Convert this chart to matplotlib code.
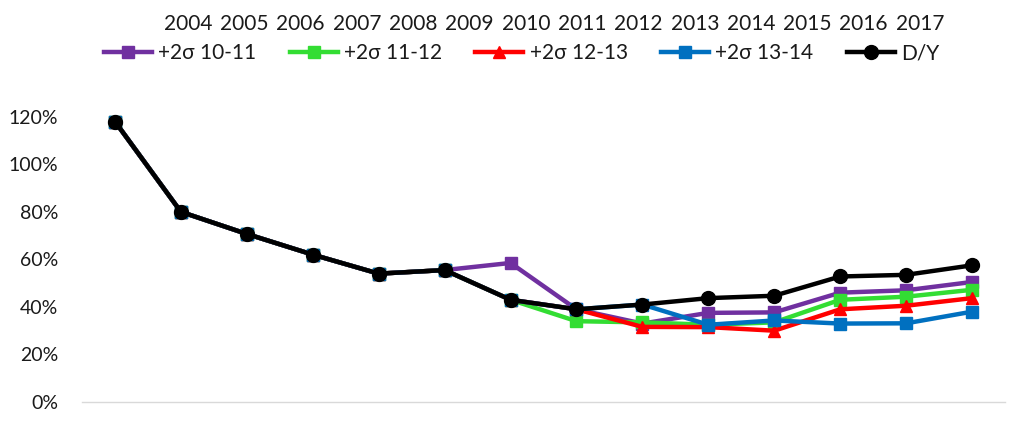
import numpy as np
import matplotlib.pyplot as plt
from matplotlib.ticker import PercentFormatter

plt.rcParams['font.family'] = ['Lato', 'DejaVu Sans']

# data (ratio, 1.0 = 100%)
years = [2004, 2005, 2006, 2007, 2008, 2009, 2010, 2011, 2012, 2013, 2014, 2015, 2016, 2017]
dy = [1.18, 0.80, 0.707, 0.62, 0.54, 0.555, 0.43, 0.39, 0.41, 0.437, 0.447, 0.528, 0.535, 0.575]
s_10_11 = [1.18, 0.80, 0.707, 0.62, 0.54, 0.555, 0.585, 0.39, 0.33, 0.375, 0.377, 0.46, 0.47, 0.505]
s_11_12 = [1.18, 0.80, 0.707, 0.62, 0.54, 0.555, 0.43, 0.34, 0.335, 0.325, 0.335, 0.43, 0.443, 0.472]
s_12_13 = [1.18, 0.80, 0.707, 0.62, 0.54, 0.555, 0.43, 0.39, 0.316, 0.315, 0.30, 0.39, 0.405, 0.437]
s_13_14 = [1.18, 0.80, 0.707, 0.62, 0.54, 0.555, 0.43, 0.39, 0.41, 0.325, 0.343, 0.33, 0.331, 0.38]
yticks = [0, 0.2, 0.4, 0.6, 0.8, 1.0, 1.2]

series = [
    ('+2σ 10-11', s_10_11, '#7030A0', 's', 9),
    ('+2σ 11-12', s_11_12, '#33DD33', 's', 9),
    ('+2σ 12-13', s_12_13, '#FF0000', '^', 8),
    ('+2σ 13-14', s_13_14, '#0070C0', 's', 9),
    ('D/Y', dy, '#000000', 'o', 10),
]

fig = plt.figure(figsize=(10.09, 4.21), dpi=100)
ax = fig.add_axes([82 / 1009, 19 / 421, 923 / 1009, 309 / 421])

x = np.arange(len(years))
handles = []
for i, (name, vals, col, mk, ms) in enumerate(series):
    h, = ax.plot(x, vals, color=col, lw=3.2, marker=mk, markersize=ms,
                 label=name, clip_on=False, zorder=2 + i)
    handles.append(h)

ax.set_xlim(-0.5, len(years) - 0.5)
ax.set_ylim(0, 1.3)
ax.set_yticks(yticks)
ax.yaxis.set_major_formatter(PercentFormatter(1.0, decimals=0))
ax.set_xticks([])
ax.tick_params(axis='y', length=0, pad=17, labelsize=14, labelcolor='#1a1a1a')
for s in ['top', 'right', 'left']:
    ax.spines[s].set_visible(False)
ax.spines['bottom'].set_color('#d9d9d9')
ax.spines['bottom'].set_linewidth(1)

# year row at the top
xs = np.linspace(188, 920, len(years)) / 1009
for xx, yr in zip(xs, years):
    fig.text(xx, 0.943, str(yr), ha='center', va='center', fontsize=15, color='#1a1a1a')

fig.legend(handles=handles, loc='center', bbox_to_anchor=(0.517, 0.874), ncol=5,
           frameon=False, fontsize=15, handlelength=2.3, handletextpad=0.3,
           columnspacing=1.6, labelcolor='#1a1a1a')

fig.savefig('out.png', dpi=100)
